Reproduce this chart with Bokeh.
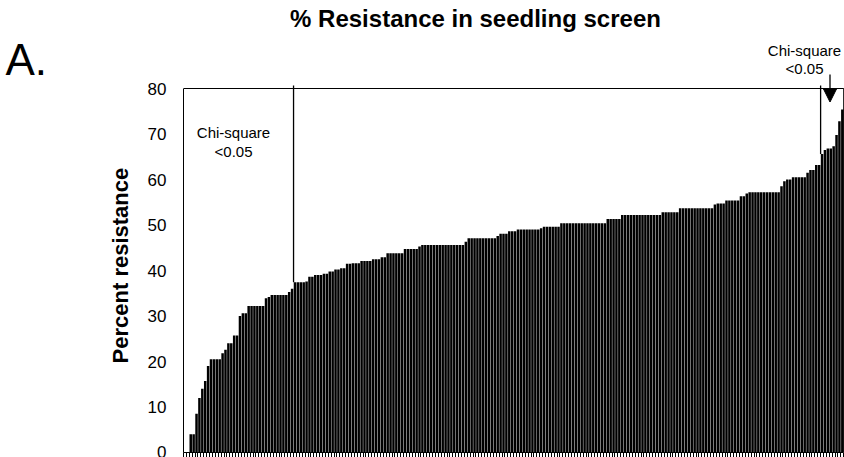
import math
from bokeh.plotting import figure
from bokeh.layouts import row
from bokeh.models import Range1d, FixedTicker, Label, Arrow, NormalHead, ColumnDataSource
from bokeh.core.properties import value
from bokeh.embed import file_html
from bokeh.resources import INLINE

# ---- data (sorted % resistance per line) ----
segments = [
    (0.0, 2), (4.0, 2), (8.5, 1), (12.0, 1), (14.0, 1), (15.7, 1), (19.0, 1),
    (20.5, 4), (21.8, 1), (22.6, 1), (24.0, 2), (25.7, 2), (30.0, 1), (30.6, 2),
    (32.2, 6), (33.9, 1), (34.2, 1), (34.6, 6), (35.3, 1), (36.0, 1),
    (37.4, 4), (37.6, 1), (38.6, 2), (39.0, 3), (39.3, 2), (39.8, 2), (40.2, 2),
    (40.5, 2), (41.5, 2), (41.6, 3), (42.1, 4), (42.5, 3), (42.9, 2), (43.8, 6),
    (44.7, 5), (45.3, 1), (45.6, 15), (46.3, 1), (47.1, 10), (47.6, 1), (48.1, 3),
    (48.6, 3), (49.0, 8), (49.3, 1), (49.6, 6), (50.4, 16), (51.3, 5), (52.2, 14),
    (52.8, 6), (53.7, 12), (54.5, 1), (54.7, 3), (55.4, 5), (56.3, 2), (56.9, 1),
    (57.2, 11), (58.5, 1), (59.6, 1), (60.0, 2), (60.5, 5), (61.5, 1), (62.1, 2),
    (63.2, 2),
    (65.6, 1), (66.5, 1), (66.8, 2), (67.3, 1), (69.8, 1), (72.8, 1), (75.4, 1),
]
resistance = [v for v, n in segments for _ in range(n)]
n_lines = len(resistance)
low_cut_index = 38      # first line outside the low chi-square group
high_cut_index = 220    # first line of the high chi-square group
y_ticks = [0, 10, 20, 30, 40, 50, 60, 70, 80]
y_max = 80
title_text = "% Resistance in seedling screen"
y_label_text = "Percent resistance"
annot_text = ["Chi-square", "<0.05"]
panel_text = "A."

FONT = "Liberation Sans"
W, H = 844, 457
LEFT_W = 140                  # width of the left panel ("A." and axis title)
FRAME_LEFT = 183              # page x of plot frame left
FRAME_TOP80 = 88              # page y of value 80
FRAME_BOTTOM = 452            # page y of value 0
px_per_unit = (FRAME_BOTTOM - FRAME_TOP80) / y_max
frame_w = W - FRAME_LEFT
x_start = -0.5
x_end = n_lines - 0.25
px_per_bar = frame_w / (x_end - x_start)


def dx(px):
    return x_start + (px - FRAME_LEFT) / px_per_bar


def dy(py):
    return (FRAME_BOTTOM - py) / px_per_unit


# ---- left panel: "A." and the y-axis title ----
pa = figure(width=LEFT_W, height=H, x_range=Range1d(0, LEFT_W), y_range=Range1d(H, 0),
            output_backend="svg", toolbar_location=None, min_border=0)
pa.axis.visible = False
pa.grid.visible = False
pa.outline_line_color = None
pa.text(x=[5], y=[60], text=[panel_text], text_baseline="middle", text_align="left",
        text_font=value(FONT), text_font_size=value("44px"), text_color="black")
pa.text(x=[120], y=[(FRAME_TOP80 + FRAME_BOTTOM) / 2 - 2], text=[y_label_text],
        angle=math.pi / 2, text_baseline="middle", text_align="center",
        text_font=value(FONT), text_font_style="bold",
        text_font_size=value("22px"), text_color="black")

# ---- main chart ----
p = figure(width=W - LEFT_W, height=H,
           x_range=Range1d(x_start, x_end),
           y_range=Range1d(0, FRAME_BOTTOM / px_per_unit),
           output_backend="svg", toolbar_location=None,
           min_border_left=FRAME_LEFT - LEFT_W, min_border_right=0,
           min_border_top=0, min_border_bottom=0)
p.title.visible = False
p.xgrid.visible = False
p.ygrid.visible = False
p.outline_line_color = None
p.background_fill_color = "white"
p.border_fill_color = "white"

src = ColumnDataSource(dict(x=list(range(n_lines)), top=resistance))
p.vbar(x="x", top="top", bottom=0, width=0.86, source=src,
       fill_color="black", line_color=None)

# x axis: category tick marks between bars (minor ticks, no labels)
p.xaxis.ticker = FixedTicker(ticks=[], minor_ticks=[i - 0.5 for i in range(n_lines + 1)])
p.xaxis.bounds = (x_start, n_lines - 0.5)
p.xaxis.major_label_standoff = 0
p.xaxis.major_tick_out = 0
p.xaxis.major_tick_in = 0
p.xaxis.minor_tick_out = 5
p.xaxis.minor_tick_in = 0
p.xaxis.axis_line_color = "black"
p.xaxis.minor_tick_line_color = "black"

# y axis
p.yaxis.ticker = FixedTicker(ticks=y_ticks, minor_ticks=[])
p.yaxis.bounds = (0, y_max)
p.yaxis.major_tick_out = 0
p.yaxis.major_tick_in = 0
p.yaxis.minor_tick_out = 0
p.yaxis.minor_tick_in = 0
p.yaxis.major_label_standoff = 17
p.yaxis.major_label_text_font = FONT
p.yaxis.major_label_text_font_size = "17px"
p.yaxis.major_label_text_color = "black"
p.yaxis.axis_line_color = "black"

# plot-area border (top and right)
p.segment(x0=[x_start, n_lines - 0.5], x1=[n_lines - 0.5, n_lines - 0.5],
          y0=[y_max, 0], y1=[y_max, y_max], line_color="black", line_width=1.2)

# chi-square cut-off lines
overshoot = 3 / px_per_unit
p.segment(x0=[low_cut_index - 0.5, high_cut_index - 0.5],
          x1=[low_cut_index - 0.5, high_cut_index - 0.5],
          y0=[resistance[low_cut_index], resistance[high_cut_index]],
          y1=[y_max + overshoot, y_max + overshoot], line_color="black", line_width=1.3)

p.add_layout(Label(x=dx(475), y=dy(18), text=title_text, text_align="center",
                   text_baseline="middle", text_font=FONT, text_font_style="bold",
                   text_font_size="24px", text_color="black"))
# left annotation
for txt, py in zip(annot_text, [132, 151]):
    p.add_layout(Label(x=dx(233), y=dy(py), text=txt, text_align="center",
                       text_baseline="middle", text_font=FONT, text_font_size="15px",
                       text_color="black"))
# right annotation
for txt, py in zip(annot_text, [50, 68]):
    p.add_layout(Label(x=dx(804), y=dy(py), text=txt, text_align="center",
                       text_baseline="middle", text_font=FONT, text_font_size="15px",
                       text_color="black"))
arrow_x = dx(829.5)
p.add_layout(Arrow(x_start=arrow_x, y_start=dy(74), x_end=arrow_x, y_end=dy(101.5),
                   line_color="black", line_width=1.3,
                   end=NormalHead(size=13, fill_color="black", line_color="black")))

layout = row(pa, p)
open("out.html", "w").write(file_html(layout, INLINE))
